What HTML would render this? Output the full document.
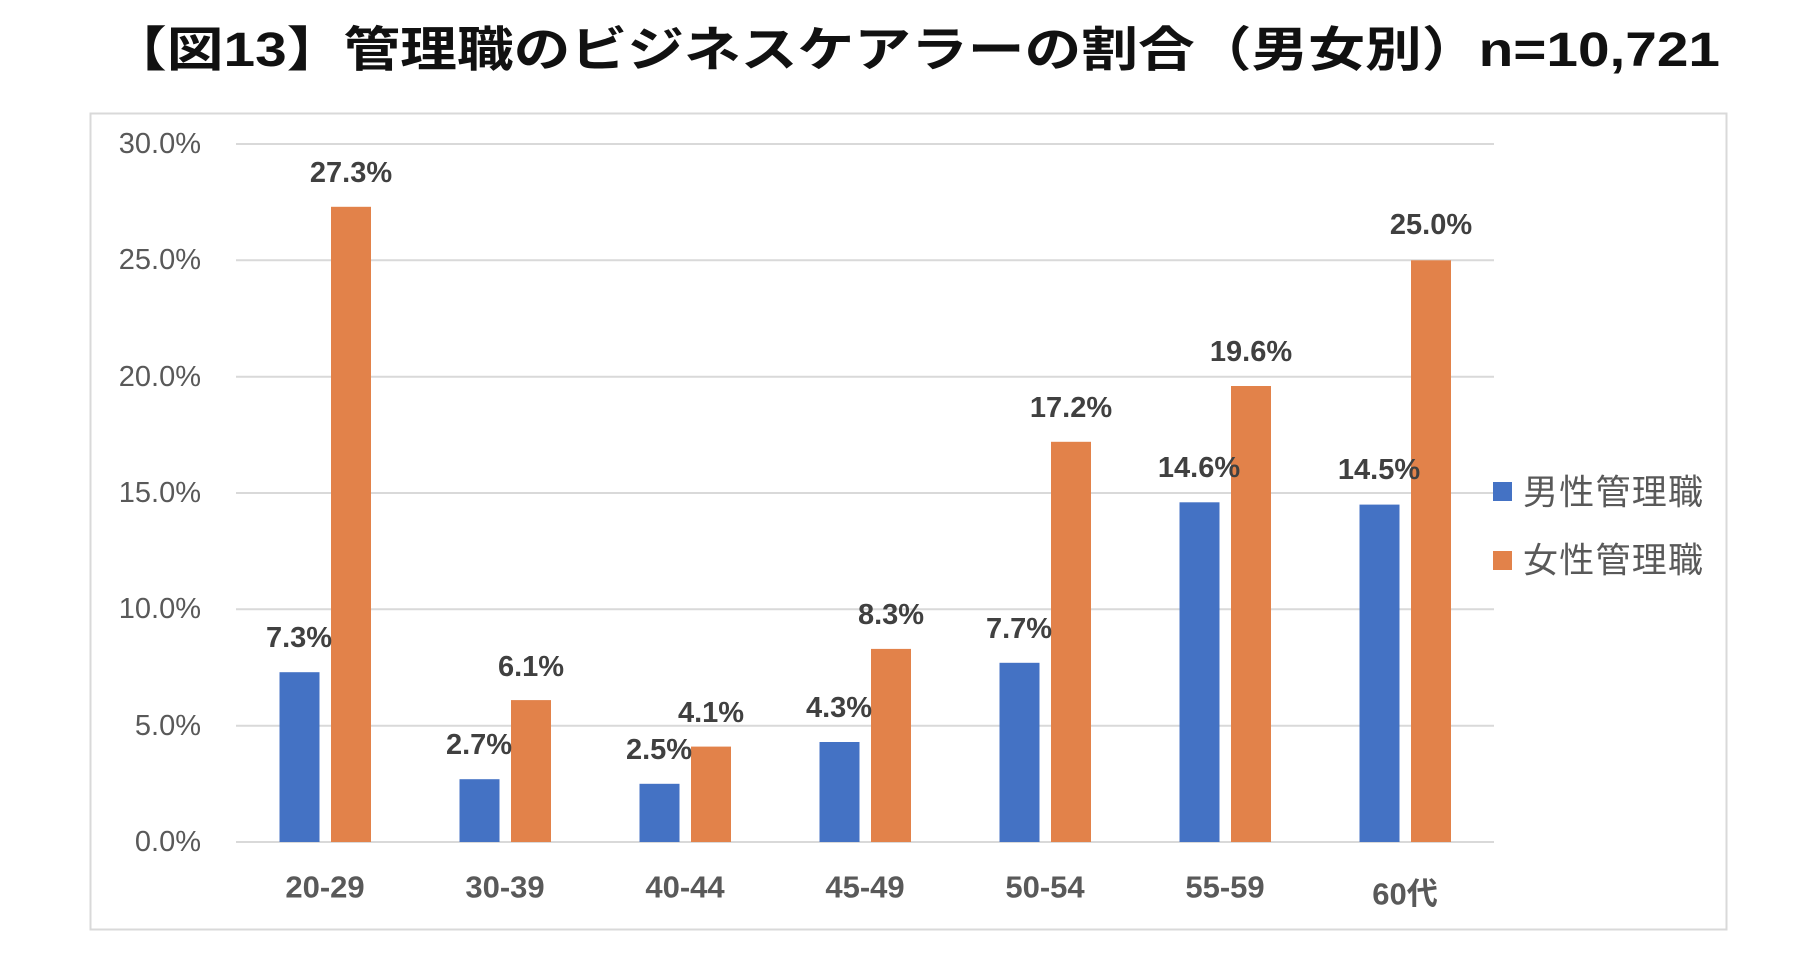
<!DOCTYPE html>
<html><head><meta charset="utf-8"><style>
html,body{margin:0;padding:0;background:#fff;}
svg{display:block;}
</style></head><body>
<svg width="1812" height="966" viewBox="0 0 1812 966" xmlns="http://www.w3.org/2000/svg">
<rect width="1812" height="966" fill="#fff"/>
<text x="110" y="66" font-family="'Liberation Sans','Noto Sans CJK JP',sans-serif" font-weight="bold" font-size="48" fill="#111" textLength="1610" lengthAdjust="spacingAndGlyphs">【図13】管理職のビジネスケアラーの割合（男女別）n=10,721</text>
<rect x="90.5" y="113.5" width="1636" height="816" fill="none" stroke="#d9d9d9" stroke-width="2"/>
<g stroke="#d9d9d9" stroke-width="2">
<line x1="236" x2="1494" y1="144" y2="144"/>
<line x1="236" x2="1494" y1="260.3" y2="260.3"/>
<line x1="236" x2="1494" y1="376.7" y2="376.7"/>
<line x1="236" x2="1494" y1="493" y2="493"/>
<line x1="236" x2="1494" y1="609.3" y2="609.3"/>
<line x1="236" x2="1494" y1="725.7" y2="725.7"/>
<line x1="236" x2="1494" y1="842" y2="842"/>
</g>
<g font-family="'Liberation Sans',sans-serif" font-size="29" fill="#595959" text-anchor="end" dominant-baseline="central">
<text x="201" y="144">30.0%</text>
<text x="201" y="260">25.0%</text>
<text x="201" y="377">20.0%</text>
<text x="201" y="493">15.0%</text>
<text x="201" y="609">10.0%</text>
<text x="201" y="726">5.0%</text>
<text x="201" y="842">0.0%</text>
</g>
<g fill="#4472C4">
<rect x="279.5" y="672.2" width="40" height="169.8"/>
<rect x="459.5" y="779.2" width="40" height="62.8"/>
<rect x="639.5" y="783.8" width="40" height="58.2"/>
<rect x="819.5" y="742" width="40" height="100"/>
<rect x="999.5" y="662.8" width="40" height="179.2"/>
<rect x="1179.5" y="502.3" width="40" height="339.7"/>
<rect x="1359.5" y="504.6" width="40" height="337.4"/>
</g>
<g fill="#E2824A">
<rect x="331" y="206.8" width="40" height="635.2"/>
<rect x="511" y="700.1" width="40" height="141.9"/>
<rect x="691" y="746.6" width="40" height="95.4"/>
<rect x="871" y="648.9" width="40" height="193.1"/>
<rect x="1051" y="441.8" width="40" height="400.2"/>
<rect x="1231" y="386" width="40" height="456"/>
<rect x="1411" y="260.3" width="40" height="581.7"/>
</g>
<g font-family="'Liberation Sans',sans-serif" font-weight="bold" font-size="29" fill="#404040" text-anchor="middle" dominant-baseline="central">
<text x="299" y="638">7.3%</text>
<text x="351" y="173">27.3%</text>
<text x="479" y="745">2.7%</text>
<text x="531" y="667">6.1%</text>
<text x="659" y="750">2.5%</text>
<text x="711" y="713">4.1%</text>
<text x="839" y="708">4.3%</text>
<text x="891" y="615">8.3%</text>
<text x="1019" y="629">7.7%</text>
<text x="1071" y="408">17.2%</text>
<text x="1199" y="468">14.6%</text>
<text x="1251" y="352">19.6%</text>
<text x="1379" y="470">14.5%</text>
<text x="1431" y="225">25.0%</text>
</g>
<g font-family="'Liberation Sans','Noto Sans CJK JP',sans-serif" font-weight="bold" font-size="31" fill="#595959" text-anchor="middle" dominant-baseline="central">
<text x="325" y="887">20-29</text>
<text x="505" y="887">30-39</text>
<text x="685" y="887">40-44</text>
<text x="865" y="887">45-49</text>
<text x="1045" y="887">50-54</text>
<text x="1225" y="887">55-59</text>
<text x="1405" y="894">60代</text>
</g>
<rect x="1493" y="482" width="19" height="19" fill="#4472C4"/>
<rect x="1493" y="551" width="19" height="19" fill="#E2824A"/>
<g font-family="'Noto Sans CJK JP',sans-serif" font-size="35" fill="#595959" dominant-baseline="central">
<text x="1523" y="490" textLength="180" lengthAdjust="spacing">男性管理職</text>
<text x="1523" y="558" textLength="180" lengthAdjust="spacing">女性管理職</text>
</g>
</svg>
</body></html>
